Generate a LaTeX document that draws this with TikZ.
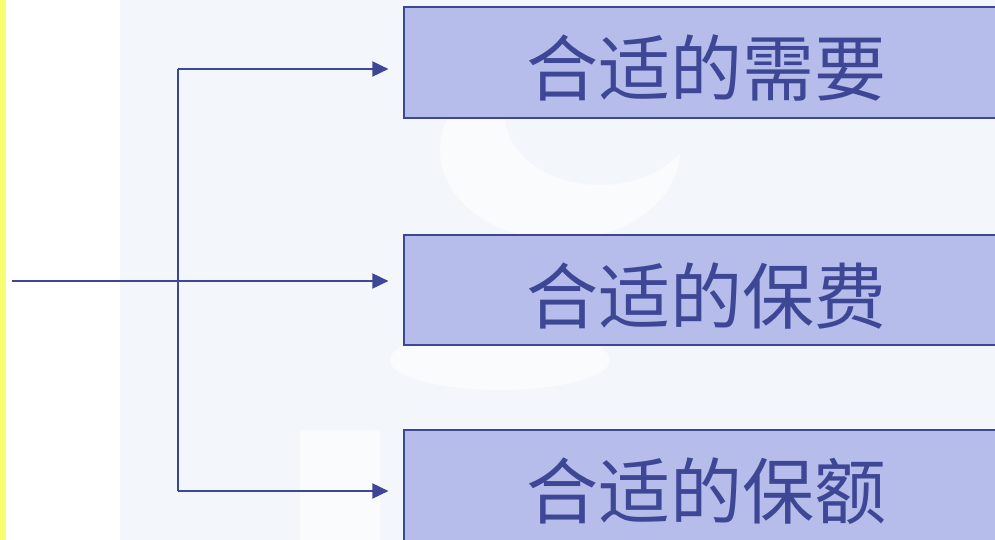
\documentclass[tikz,border=0pt]{standalone}
\usepackage{fontspec}
\newfontfamily\cjk{Noto Sans CJK SC}
\usetikzlibrary{arrows.meta,calc}
\definecolor{navy}{HTML}{3E4795}
\definecolor{boxfill}{HTML}{B6BDEA}
\definecolor{stripe}{HTML}{F8FF70}
\definecolor{backdrop}{HTML}{F3F7FB}
\tikzset{
  choice/.style={draw=navy, line width=1.2pt, fill=boxfill, minimum width=604pt,
    inner sep=0pt, text=navy, text height=74pt, text depth=8pt,
    font=\cjk\fontsize{72}{72}\selectfont},
  link/.style={draw=navy, line width=1.9pt},
  pointer/.style={link, -{Triangle[length=16pt,width=15pt]}, shorten >=15pt}
}
\begin{document}
\begin{tikzpicture}[x=1pt,y=-1pt]
\useasboundingbox (0,0) rectangle (995,540);
\clip (0,0) rectangle (995,540);
% background
\fill[white] (0,0) rectangle (995,540);
\fill[backdrop] (120,0) rectangle (995,540);
\fill[white, opacity=0.6] (560,150) ellipse (120 and 90);
\fill[backdrop] (600,115) ellipse (95 and 70);
\fill[white, opacity=0.5] (500,360) ellipse (110 and 30);
\fill[white, opacity=0.5] (300,430) rectangle (380,540);
\fill[stripe] (0,0) rectangle (6,540);
% boxes
\node[choice, minimum height=111pt] (b1) at (706,62.5) {合适的需要};
\node[choice, minimum height=110pt] (b2) at (706,290) {合适的保费};
\node[choice, minimum height=111pt] (b3) at (706,485.5) {合适的保额};
% connectors
\coordinate (src) at (12,281);
\coordinate (top) at (178,69);
\coordinate (bot) at (178,491);
\draw[link] (top) -- (bot);
\draw[pointer] (top) -- (top -| b1.west);
\draw[pointer] (src) -- (src -| b2.west);
\draw[pointer] (bot) -- (bot -| b3.west);
\end{tikzpicture}
\end{document}
